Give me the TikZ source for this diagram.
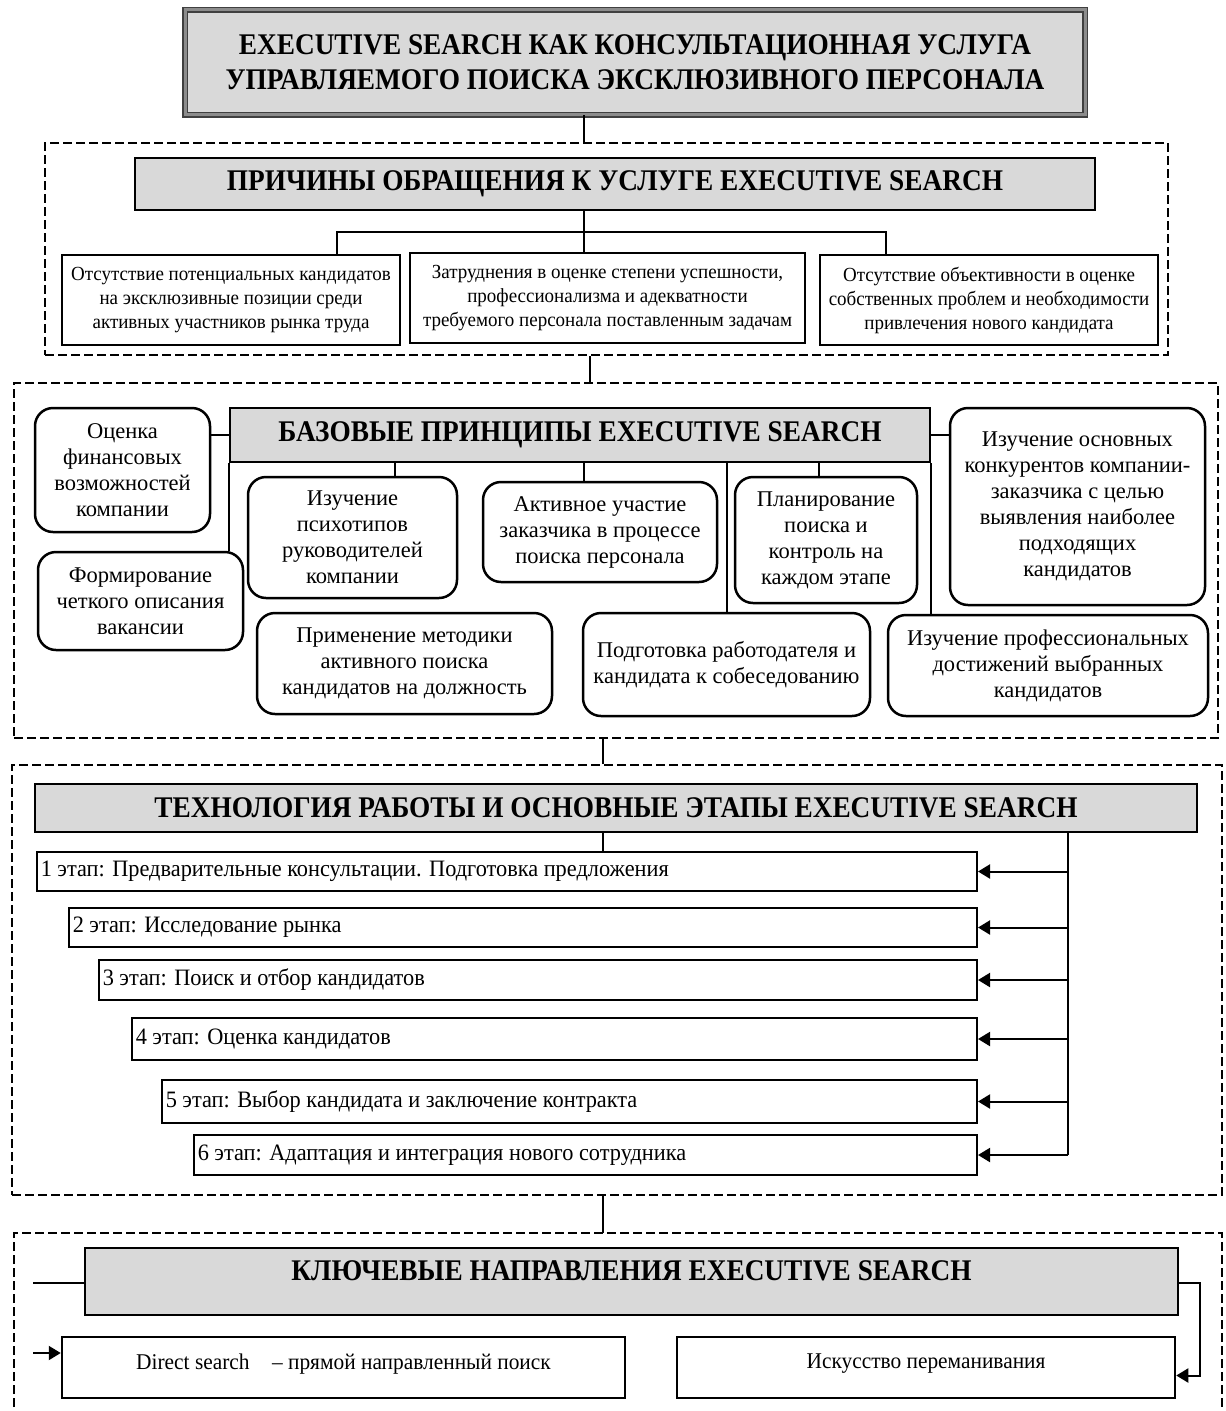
\documentclass[tikz,border=0pt]{standalone}
\usepackage{fontspec}
\setmainfont{Liberation Serif}
\newfontfamily\headfont[FakeStretch=0.91]{Liberation Serif}
\newfontfamily\bodyfont[FakeStretch=0.95]{Liberation Serif}
\usetikzlibrary{arrows.meta}

\begin{document}
\begin{tikzpicture}[x=1pt, y=-1pt,
  frame/.style={draw, line width=2.5pt, dash pattern=on 9pt off 4pt},
  title/.style={draw, line width=2.5pt, fill=black!15, inner sep=0pt,
    font=\headfont\bfseries\fontsize{30}{35}\selectfont, align=center},
  box/.style={draw, line width=2.5pt, fill=white, inner sep=0pt, align=center,
    font=\bodyfont\fontsize{20}{24}\selectfont},
  rbox/.style={box, rounded corners=18pt, font=\rmfamily\fontsize{22.5}{26}\selectfont},
  stagebox/.style={box, anchor=east, inner xsep=4pt, align=flush left,
    font=\bodyfont\fontsize{23.5}{28}\selectfont},
  link/.style={line width=2pt},
  arr/.style={link, -{Triangle[length=12pt,width=14pt]}}
]
\useasboundingbox (0,0) rectangle (1226,1411);

% header
\node[title, draw=black!75, line width=1.5pt, double=black!45, double distance=3pt,
  minimum width=900, minimum height=105] (top) at (635,62)
  {EXECUTIVE SEARCH КАК КОНСУЛЬТАЦИОННАЯ УСЛУГА\\
   УПРАВЛЯЕМОГО ПОИСКА ЭКСКЛЮЗИВНОГО ПЕРСОНАЛА};

% reasons
\node[frame, minimum width=1123, minimum height=212] (f1) at (606.5,249) {};
\node[title, minimum width=960, minimum height=52] (reasons) at (615,184)
  {ПРИЧИНЫ ОБРАЩЕНИЯ К УСЛУГЕ EXECUTIVE SEARCH};
\node[box, minimum width=338, minimum height=90] (b1) at (231,300)
  {Отсутствие потенциальных кандидатов\\ на эксклюзивные позиции среди\\ активных участников рынка труда};
\node[box, minimum width=395, minimum height=90] (b2) at (607.5,298)
  {Затруднения в оценке степени успешности,\\ профессионализма и адекватности\\ требуемого персонала поставленным задачам};
\node[box, minimum width=338, minimum height=90] (b3) at (989,300)
  {Отсутствие объективности в оценке\\ собственных проблем и необходимости\\ привлечения нового кандидата};

\coordinate (j1) at (337,232);
\coordinate (j3) at (886,232);
\draw[link] (584,0 |- top.south) -- (584,0 |- f1.north);
\draw[link] (584,0 |- reasons.south) -- (584,0 |- b2.north);
\draw[link] (j1 |- b1.north) -- (j1) -- (j3) -- (j3 |- b3.north);

% principles
\node[frame, minimum width=1204, minimum height=355] (f2) at (616,560.5) {};
\draw[link] (590,0 |- f1.south) -- (590,0 |- f2.north);
\node[title, minimum width=700, minimum height=54] (base) at (580,435)
  {БАЗОВЫЕ ПРИНЦИПЫ EXECUTIVE SEARCH};
\node[rbox, minimum width=175, minimum height=124] (r1) at (122.5,470)
  {Оценка\\ финансовых\\ возможностей\\ компании};
\node[rbox, minimum width=205, minimum height=98] (r2) at (140.5,601)
  {Формирование\\ четкого описания\\ вакансии};
\node[rbox, minimum width=209, minimum height=121] (r3) at (352.5,537.5)
  {Изучение\\ психотипов\\ руководителей\\ компании};
\node[rbox, minimum width=234, minimum height=100] (r4) at (600,532)
  {Активное участие\\ заказчика в процессе\\ поиска персонала};
\node[rbox, minimum width=182, minimum height=126] (r5) at (826,540)
  {Планирование\\ поиска и\\ контроль на\\ каждом этапе};
\node[rbox, minimum width=255, minimum height=197] (r6) at (1077.5,506.5)
  {Изучение основных\\ конкурентов компании-\\ заказчика с целью\\ выявления наиболее\\ подходящих\\ кандидатов};
\node[rbox, minimum width=295, minimum height=101] (r7) at (404.5,663.5)
  {Применение методики\\ активного поиска\\ кандидатов на должность};
\node[rbox, minimum width=287, minimum height=103] (r8) at (726.5,664.5)
  {Подготовка работодателя и\\ кандидата к собеседованию};
\node[rbox, minimum width=320, minimum height=101] (r9) at (1048,665.5)
  {Изучение профессиональных\\ достижений выбранных\\ кандидатов};

\draw[link] (base.west) -- (r1.east |- base.west);
\draw[link] (base.east) -- (r6.west |- base.east);
\draw[link] (base.south west) -- (base.south west |- r2.north);
\draw[link] (395,0 |- base.south) -- (395,0 |- r3.north);
\draw[link] (584,0 |- base.south) -- (584,0 |- r4.north);
\draw[link] (819,0 |- base.south) -- (819,0 |- r5.north);
\draw[link] (r8.north |- base.south) -- (r8.north);
\draw[link] (base.south east) -- (base.south east |- r9.north);

% stages
\node[frame, minimum width=1210, minimum height=430] (f3) at (617,980) {};
\draw[link] (603,0 |- f2.south) -- (603,0 |- f3.north);
\node[title, minimum width=1162, minimum height=48] (tech) at (616,808)
  {ТЕХНОЛОГИЯ РАБОТЫ И ОСНОВНЫЕ ЭТАПЫ EXECUTIVE SEARCH};
\node[stagebox, text width=932, minimum height=39] (s1) at (978,871.5)
  {1 этап: Предварительные консультации. Подготовка предложения};
\node[stagebox, text width=900, minimum height=39] (s2) at (978,927.5)
  {2 этап: Исследование рынка};
\node[stagebox, text width=870, minimum height=40] (s3) at (978,980)
  {3 этап: Поиск и отбор кандидатов};
\node[stagebox, text width=837, minimum height=42] (s4) at (978,1039)
  {4 этап: Оценка кандидатов};
\node[stagebox, text width=807, minimum height=43] (s5) at (978,1101.5)
  {5 этап: Выбор кандидата и заключение контракта};
\node[stagebox, text width=775, minimum height=40] (s6) at (978,1155)
  {6 этап: Адаптация и интеграция нового сотрудника};

\draw[link] (603,0 |- tech.south) -- (603,0 |- s1.north);
\draw[link] (1068,0 |- tech.south) -- (1068,0 |- s6.east);
\foreach \s in {s1,s2,s3,s4,s5,s6}
  \draw[arr] (1068,0 |- \s.east) -- (\s.east);

% key directions
\coordinate (f4) at (603,1233);
\draw[frame] (14,1420) -- (14,1233) -- (1222,1233) -- (1222,1420);
\draw[link] (603,0 |- f3.south) -- (f4);
\node[title, minimum width=1093, minimum height=67, text depth=22pt] (keys) at (631.5,1281.5)
  {КЛЮЧЕВЫЕ НАПРАВЛЕНИЯ EXECUTIVE SEARCH};
\node[box, minimum width=563, minimum height=61, text depth=12pt, font=\bodyfont\fontsize{22.5}{26}\selectfont] (d1) at (343.5,1367.5)
  {Direct search\quad – прямой направленный поиск};
\node[box, minimum width=498, minimum height=61, text depth=12pt, font=\bodyfont\fontsize{22.5}{26}\selectfont] (d2) at (926,1367.5)
  {Искусство переманивания};

\coordinate (kl) at (33,1283);
\coordinate (ka) at (33,1353);
\draw[link] (keys.west |- kl) -- (kl);
\draw[arr] (ka) -- (ka -| d1.west);
\draw[arr] (keys.east |- kl) -- (1200,1283) |- ([yshift=-8pt]d2.east);
\end{tikzpicture}
\end{document}
